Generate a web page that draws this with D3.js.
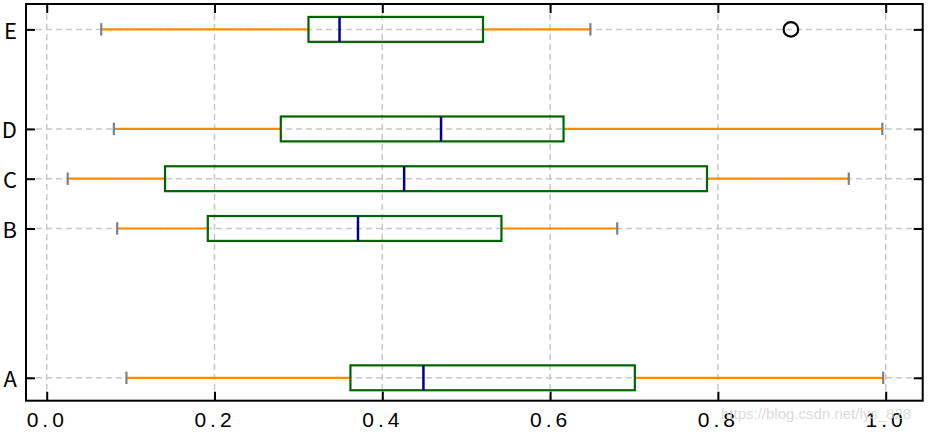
<!DOCTYPE html>
<html>
<head>
<meta charset="utf-8">
<script src="https://cdn.jsdelivr.net/npm/d3@7"></script>
<style>
  html, body { margin: 0; padding: 0; background: #fff; }
  svg { display: block; }
</style>
</head>
<body>
<svg id="chart" width="930" height="432"></svg>
<script>
// ---- data ----
const categories   = ["A", "B", "C", "D", "E"];
const positions    = [1, 4, 5, 6, 8];
const whiskerLow   = [0.095, 0.084, 0.025, 0.080, 0.065];
const q1           = [0.362, 0.192, 0.141, 0.279, 0.312];
const medians      = [0.449, 0.371, 0.426, 0.470, 0.349];
const q3           = [0.701, 0.542, 0.787, 0.616, 0.520];
const whiskerHigh  = [0.997, 0.680, 0.956, 0.996, 0.648];
const outliers     = [[], [], [], [], [0.887]];
const xTickValues  = [0.0, 0.2, 0.4, 0.6, 0.8, 1.0];
const xTickLabels  = ["0.0", "0.2", "0.4", "0.6", "0.8", "1.0"];

// ---- layout ----
const L = 26, R = 922.7, T = 4, B = 400.7;
const svg = d3.select("#chart");
svg.append("rect").attr("width", 930).attr("height", 432).attr("fill", "#fff");

const x = d3.scaleLinear().domain([-0.0247, 1.0441]).range([L, R]);
const y = d3.scaleLinear().domain([0.54, 8.51]).range([B, T]);
const boxHalf = (y(0) - y(0.5)) / 2;   // widths 0.5
const capHalf = (y(0) - y(0.25)) / 2;  // cap width 0.25

const font = "'Noto Sans CJK SC', 'Noto Sans', sans-serif";
const tickFont = "'Liberation Sans', 'DejaVu Sans', sans-serif";

// ---- grid ----
const grid = svg.append("g").attr("stroke", "#c8c8c8").attr("stroke-width", 1.5)
  .attr("stroke-dasharray", "6,4").attr("fill", "none");
grid.selectAll("line.gx").data(xTickValues).join("line").attr("class", "gx")
  .attr("x1", d => x(d)).attr("x2", d => x(d)).attr("y1", T).attr("y2", B);
grid.selectAll("line.gy").data(positions).join("line").attr("class", "gy")
  .attr("x1", L).attr("x2", R).attr("y1", d => y(d)).attr("y2", d => y(d));

// ---- boxes ----
const data = categories.map((c, i) => ({
  c, p: positions[i], lo: whiskerLow[i], q1: q1[i], med: medians[i],
  q3: q3[i], hi: whiskerHigh[i], out: outliers[i]
}));
const g = svg.append("g");
const items = g.selectAll("g.box").data(data).join("g").attr("class", "box");

// whiskers
items.append("line").attr("x1", d => x(d.lo)).attr("x2", d => x(d.q1))
  .attr("y1", d => y(d.p)).attr("y2", d => y(d.p))
  .attr("stroke", "#ff8c00").attr("stroke-width", 2.2);
items.append("line").attr("x1", d => x(d.q3)).attr("x2", d => x(d.hi))
  .attr("y1", d => y(d.p)).attr("y2", d => y(d.p))
  .attr("stroke", "#ff8c00").attr("stroke-width", 2.2);
// caps
items.append("line").attr("x1", d => x(d.lo)).attr("x2", d => x(d.lo))
  .attr("y1", d => y(d.p) - capHalf).attr("y2", d => y(d.p) + capHalf)
  .attr("stroke", "#808080").attr("stroke-width", 2.2);
items.append("line").attr("x1", d => x(d.hi)).attr("x2", d => x(d.hi))
  .attr("y1", d => y(d.p) - capHalf).attr("y2", d => y(d.p) + capHalf)
  .attr("stroke", "#808080").attr("stroke-width", 2.2);
// box
items.append("rect").attr("x", d => x(d.q1)).attr("width", d => x(d.q3) - x(d.q1))
  .attr("y", d => y(d.p) - boxHalf).attr("height", 2 * boxHalf)
  .attr("fill", "none").attr("stroke", "#006400").attr("stroke-width", 2.2);
// median
items.append("line").attr("x1", d => x(d.med)).attr("x2", d => x(d.med))
  .attr("y1", d => y(d.p) - boxHalf).attr("y2", d => y(d.p) + boxHalf)
  .attr("stroke", "#00008b").attr("stroke-width", 2.5);
// fliers
items.selectAll("circle").data(d => d.out.map(v => ({v, p: d.p}))).join("circle")
  .attr("cx", d => x(d.v)).attr("cy", d => y(d.p)).attr("r", 7.3)
  .attr("fill", "none").attr("stroke", "#000").attr("stroke-width", 2.2);

// ---- axes (ticks inward on all sides) ----
const tickLen = 9;
const xb = svg.append("g").attr("transform", `translate(0,${B})`)
  .call(d3.axisBottom(x).tickValues(xTickValues).tickFormat((d, i) => xTickLabels[i])
    .tickSizeInner(-tickLen).tickSizeOuter(0));
xb.selectAll("text").attr("y", 26.5).attr("dy", 0)
  .style("font-family", tickFont).style("font-size", "21px").style("letter-spacing", "4px")
  .attr("fill", "#000");
const xt = svg.append("g").attr("transform", `translate(0,${T})`)
  .call(d3.axisTop(x).tickValues(xTickValues).tickFormat("").tickSizeInner(-tickLen).tickSizeOuter(0));
const yl = svg.append("g").attr("transform", `translate(${L},0)`)
  .call(d3.axisLeft(y).tickValues(positions).tickFormat((d, i) => categories[i])
    .tickSizeInner(-tickLen).tickSizeOuter(0));
yl.selectAll("text").attr("x", -9).attr("dy", "0.4em")
  .style("font-family", font).style("font-size", "22px").attr("fill", "#000");
const yr = svg.append("g").attr("transform", `translate(${R},0)`)
  .call(d3.axisRight(y).tickValues(positions).tickFormat("").tickSizeInner(-tickLen).tickSizeOuter(0));
[xb, xt, yl, yr].forEach(a => {
  a.select(".domain").remove();
  a.selectAll(".tick line").attr("stroke", "#000").attr("stroke-width", 2);
});

// frame
svg.append("rect").attr("x", L).attr("y", T).attr("width", R - L).attr("height", B - T)
  .attr("fill", "none").attr("stroke", "#000").attr("stroke-width", 2);

// watermark
svg.append("text").attr("x", 721).attr("y", 419)
  .style("font-family", "'Liberation Sans', Arial, sans-serif").style("font-size", "15px")
  .attr("fill", "#d4d4d4").attr("fill-opacity", 0.85)
  .text("https://blog.csdn.net/lys_828");
</script>
</body>
</html>
